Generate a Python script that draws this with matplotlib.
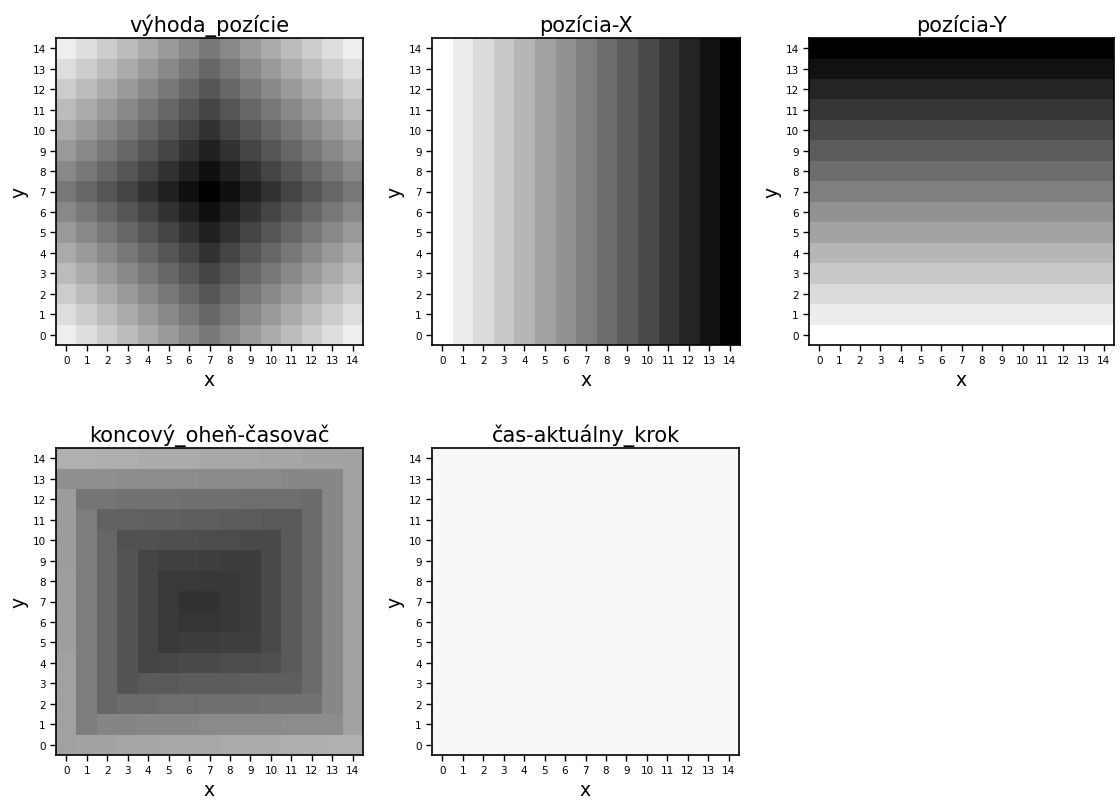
import numpy as np
import matplotlib
matplotlib.use("Agg")
import matplotlib.pyplot as plt

# ---------------- data ----------------
titles = ["výhoda_pozície", "pozícia-X", "pozícia-Y", "koncový_oheň-časovač", "čas-aktuálny_krok"]
ticks = list(range(15))

# positional advantage (out of 15), rows listed for y = 0 .. 14
advantage = [
    [1, 2, 3, 4, 5, 6, 7, 8, 7, 6, 5, 4, 3, 2, 1],
    [2, 3, 4, 5, 6, 7, 8, 9, 8, 7, 6, 5, 4, 3, 2],
    [3, 4, 5, 6, 7, 8, 9, 10, 9, 8, 7, 6, 5, 4, 3],
    [4, 5, 6, 7, 8, 9, 10, 11, 10, 9, 8, 7, 6, 5, 4],
    [5, 6, 7, 8, 9, 10, 11, 12, 11, 10, 9, 8, 7, 6, 5],
    [6, 7, 8, 9, 10, 11, 12, 13, 12, 11, 10, 9, 8, 7, 6],
    [7, 8, 9, 10, 11, 12, 13, 14, 13, 12, 11, 10, 9, 8, 7],
    [8, 9, 10, 11, 12, 13, 14, 15, 14, 13, 12, 11, 10, 9, 8],
    [7, 8, 9, 10, 11, 12, 13, 14, 13, 12, 11, 10, 9, 8, 7],
    [6, 7, 8, 9, 10, 11, 12, 13, 12, 11, 10, 9, 8, 7, 6],
    [5, 6, 7, 8, 9, 10, 11, 12, 11, 10, 9, 8, 7, 6, 5],
    [4, 5, 6, 7, 8, 9, 10, 11, 10, 9, 8, 7, 6, 5, 4],
    [3, 4, 5, 6, 7, 8, 9, 10, 9, 8, 7, 6, 5, 4, 3],
    [2, 3, 4, 5, 6, 7, 8, 9, 8, 7, 6, 5, 4, 3, 2],
    [1, 2, 3, 4, 5, 6, 7, 8, 7, 6, 5, 4, 3, 2, 1],
]
advantage_max = 15

# position channels (value per column / per row)
pos_x_values = [0, 1, 2, 3, 4, 5, 6, 7, 8, 9, 10, 11, 12, 13, 14]
pos_y_values = [0, 1, 2, 3, 4, 5, 6, 7, 8, 9, 10, 11, 12, 13, 14]
pos_max = 14

# end-fire timer (percent), rows listed for y = 0 .. 14
fire_timer = [
    [37, 36, 36, 35, 35, 34, 34, 34, 33, 33, 33, 32, 32, 31, 31],
    [37, 51, 48, 48, 47, 47, 47, 46, 46, 46, 46, 45, 45, 45, 37],
    [37, 51, 60, 58, 58, 57, 57, 56, 56, 56, 55, 55, 55, 47, 37],
    [37, 51, 60, 67, 65, 65, 64, 64, 64, 63, 63, 63, 58, 47, 37],
    [37, 51, 60, 67, 73, 72, 71, 71, 70, 70, 69, 65, 58, 47, 37],
    [38, 51, 60, 67, 73, 77, 76, 76, 75, 75, 71, 65, 58, 47, 37],
    [38, 51, 60, 67, 73, 77, 79, 79, 78, 76, 71, 65, 58, 47, 37],
    [38, 51, 60, 67, 73, 77, 80, 80, 78, 76, 71, 65, 58, 47, 37],
    [38, 51, 60, 67, 73, 77, 77, 78, 78, 76, 71, 65, 58, 47, 37],
    [39, 51, 60, 67, 73, 74, 74, 75, 76, 76, 71, 65, 58, 47, 37],
    [39, 51, 60, 68, 68, 69, 69, 70, 70, 71, 71, 65, 58, 47, 37],
    [39, 51, 61, 61, 62, 62, 63, 63, 64, 64, 65, 65, 58, 47, 37],
    [39, 54, 54, 55, 55, 55, 56, 56, 56, 57, 57, 57, 58, 47, 37],
    [44, 44, 44, 45, 45, 45, 45, 46, 46, 46, 46, 47, 47, 47, 37],
    [31, 31, 32, 32, 33, 33, 33, 34, 34, 34, 35, 35, 36, 36, 37],
]
fire_max = 100

# current step (constant over the board)
current_step_value = 0.03

# ---------------- figure ----------------
W, H = 1120, 803
fig = plt.figure(figsize=(W / 100, H / 100), dpi=100)

n = len(ticks)
grids = [
    (np.array(advantage, float), advantage_max),
    (np.tile(np.array(pos_x_values, float), (n, 1)), pos_max),
    (np.tile(np.array(pos_y_values, float)[:, None], (1, n)), pos_max),
    (np.array(fire_timer, float), fire_max),
    (np.full((n, n), current_step_value), 1.0),
]

# axes boxes in pixels: left, right, top, bottom
boxes = [
    (56, 363, 39, 346),
    (432, 740, 39, 346),
    (809, 1114, 39, 346),
    (56, 363, 449, 756),
    (432, 739, 449, 756),
]

for (grid, vmax), (l, r, t, b), title in zip(grids, boxes, titles):
    ax = fig.add_axes([l / W, 1 - b / H, (r - l) / W, (b - t) / H])
    ax.imshow(grid, cmap="gray_r", vmin=0, vmax=vmax, origin="lower",
              interpolation="nearest", aspect="auto")
    ax.set_xticks(ticks)
    ax.set_yticks(ticks)
    ax.set_xticklabels([str(v) for v in ticks])
    ax.set_yticklabels([str(v) for v in ticks])
    ax.tick_params(labelsize=7.5, width=1.0, length=4)
    for s in ax.spines.values():
        s.set_linewidth(1.2)
    ax.set_title(title, fontsize=15, pad=5)
    ax.set_xlabel("x", fontsize=13.5, labelpad=3.5)
    ax.set_ylabel("y", fontsize=13.5, labelpad=3)

fig.savefig("out.png", dpi=100)
